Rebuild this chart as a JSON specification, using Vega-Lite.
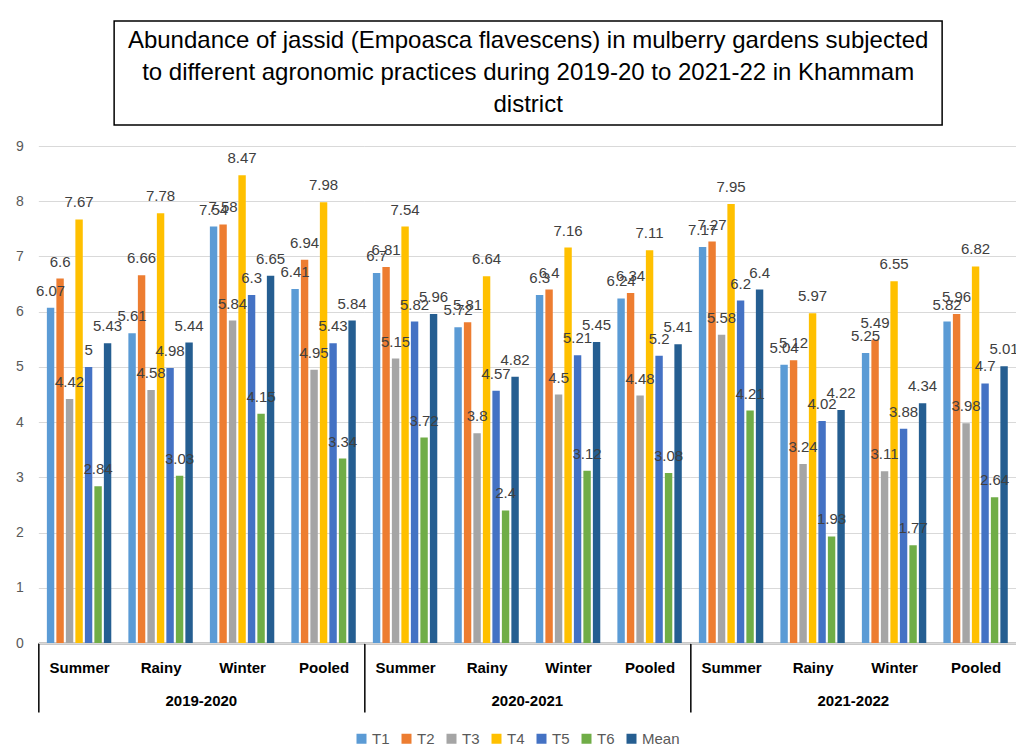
{
  "$schema": "https://vega.github.io/schema/vega-lite/v6.json",
  "padding": {"left": 15, "top": 20, "right": 0, "bottom": 0},
  "background": "white",
  "config": {
    "view": {"stroke": null},
    "font": "Liberation Sans",
    "legend": {"layout": {"bottom": {"anchor": "middle"}}}
  },
  "datasets": {
    "heading": [
      {"text": "Abundance of jassid (Empoasca flavescens) in mulberry gardens subjected|to different agronomic practices during 2019-20 to 2021-22 in Khammam|district"}
    ],
    "abundance": [
      {"year": "2019-2020", "season": "Summer", "series": "T1", "value": 6.07},
      {"year": "2019-2020", "season": "Summer", "series": "T2", "value": 6.6},
      {"year": "2019-2020", "season": "Summer", "series": "T3", "value": 4.42},
      {"year": "2019-2020", "season": "Summer", "series": "T4", "value": 7.67},
      {"year": "2019-2020", "season": "Summer", "series": "T5", "value": 5},
      {"year": "2019-2020", "season": "Summer", "series": "T6", "value": 2.84},
      {"year": "2019-2020", "season": "Summer", "series": "Mean", "value": 5.43},
      {"year": "2019-2020", "season": "Rainy", "series": "T1", "value": 5.61},
      {"year": "2019-2020", "season": "Rainy", "series": "T2", "value": 6.66},
      {"year": "2019-2020", "season": "Rainy", "series": "T3", "value": 4.58},
      {"year": "2019-2020", "season": "Rainy", "series": "T4", "value": 7.78},
      {"year": "2019-2020", "season": "Rainy", "series": "T5", "value": 4.98},
      {"year": "2019-2020", "season": "Rainy", "series": "T6", "value": 3.03},
      {"year": "2019-2020", "season": "Rainy", "series": "Mean", "value": 5.44},
      {"year": "2019-2020", "season": "Winter", "series": "T1", "value": 7.54},
      {"year": "2019-2020", "season": "Winter", "series": "T2", "value": 7.58},
      {"year": "2019-2020", "season": "Winter", "series": "T3", "value": 5.84},
      {"year": "2019-2020", "season": "Winter", "series": "T4", "value": 8.47},
      {"year": "2019-2020", "season": "Winter", "series": "T5", "value": 6.3},
      {"year": "2019-2020", "season": "Winter", "series": "T6", "value": 4.15},
      {"year": "2019-2020", "season": "Winter", "series": "Mean", "value": 6.65},
      {"year": "2019-2020", "season": "Pooled", "series": "T1", "value": 6.41},
      {"year": "2019-2020", "season": "Pooled", "series": "T2", "value": 6.94},
      {"year": "2019-2020", "season": "Pooled", "series": "T3", "value": 4.95},
      {"year": "2019-2020", "season": "Pooled", "series": "T4", "value": 7.98},
      {"year": "2019-2020", "season": "Pooled", "series": "T5", "value": 5.43},
      {"year": "2019-2020", "season": "Pooled", "series": "T6", "value": 3.34},
      {"year": "2019-2020", "season": "Pooled", "series": "Mean", "value": 5.84},
      {"year": "2020-2021", "season": "Summer", "series": "T1", "value": 6.7},
      {"year": "2020-2021", "season": "Summer", "series": "T2", "value": 6.81},
      {"year": "2020-2021", "season": "Summer", "series": "T3", "value": 5.15},
      {"year": "2020-2021", "season": "Summer", "series": "T4", "value": 7.54},
      {"year": "2020-2021", "season": "Summer", "series": "T5", "value": 5.82},
      {"year": "2020-2021", "season": "Summer", "series": "T6", "value": 3.72},
      {"year": "2020-2021", "season": "Summer", "series": "Mean", "value": 5.96},
      {"year": "2020-2021", "season": "Rainy", "series": "T1", "value": 5.72},
      {"year": "2020-2021", "season": "Rainy", "series": "T2", "value": 5.81},
      {"year": "2020-2021", "season": "Rainy", "series": "T3", "value": 3.8},
      {"year": "2020-2021", "season": "Rainy", "series": "T4", "value": 6.64},
      {"year": "2020-2021", "season": "Rainy", "series": "T5", "value": 4.57},
      {"year": "2020-2021", "season": "Rainy", "series": "T6", "value": 2.4},
      {"year": "2020-2021", "season": "Rainy", "series": "Mean", "value": 4.82},
      {"year": "2020-2021", "season": "Winter", "series": "T1", "value": 6.3},
      {"year": "2020-2021", "season": "Winter", "series": "T2", "value": 6.4},
      {"year": "2020-2021", "season": "Winter", "series": "T3", "value": 4.5},
      {"year": "2020-2021", "season": "Winter", "series": "T4", "value": 7.16},
      {"year": "2020-2021", "season": "Winter", "series": "T5", "value": 5.21},
      {"year": "2020-2021", "season": "Winter", "series": "T6", "value": 3.12},
      {"year": "2020-2021", "season": "Winter", "series": "Mean", "value": 5.45},
      {"year": "2020-2021", "season": "Pooled", "series": "T1", "value": 6.24},
      {"year": "2020-2021", "season": "Pooled", "series": "T2", "value": 6.34},
      {"year": "2020-2021", "season": "Pooled", "series": "T3", "value": 4.48},
      {"year": "2020-2021", "season": "Pooled", "series": "T4", "value": 7.11},
      {"year": "2020-2021", "season": "Pooled", "series": "T5", "value": 5.2},
      {"year": "2020-2021", "season": "Pooled", "series": "T6", "value": 3.08},
      {"year": "2020-2021", "season": "Pooled", "series": "Mean", "value": 5.41},
      {"year": "2021-2022", "season": "Summer", "series": "T1", "value": 7.17},
      {"year": "2021-2022", "season": "Summer", "series": "T2", "value": 7.27},
      {"year": "2021-2022", "season": "Summer", "series": "T3", "value": 5.58},
      {"year": "2021-2022", "season": "Summer", "series": "T4", "value": 7.95},
      {"year": "2021-2022", "season": "Summer", "series": "T5", "value": 6.2},
      {"year": "2021-2022", "season": "Summer", "series": "T6", "value": 4.21},
      {"year": "2021-2022", "season": "Summer", "series": "Mean", "value": 6.4},
      {"year": "2021-2022", "season": "Rainy", "series": "T1", "value": 5.04},
      {"year": "2021-2022", "season": "Rainy", "series": "T2", "value": 5.12},
      {"year": "2021-2022", "season": "Rainy", "series": "T3", "value": 3.24},
      {"year": "2021-2022", "season": "Rainy", "series": "T4", "value": 5.97},
      {"year": "2021-2022", "season": "Rainy", "series": "T5", "value": 4.02},
      {"year": "2021-2022", "season": "Rainy", "series": "T6", "value": 1.93},
      {"year": "2021-2022", "season": "Rainy", "series": "Mean", "value": 4.22},
      {"year": "2021-2022", "season": "Winter", "series": "T1", "value": 5.25},
      {"year": "2021-2022", "season": "Winter", "series": "T2", "value": 5.49},
      {"year": "2021-2022", "season": "Winter", "series": "T3", "value": 3.11},
      {"year": "2021-2022", "season": "Winter", "series": "T4", "value": 6.55},
      {"year": "2021-2022", "season": "Winter", "series": "T5", "value": 3.88},
      {"year": "2021-2022", "season": "Winter", "series": "T6", "value": 1.77},
      {"year": "2021-2022", "season": "Winter", "series": "Mean", "value": 4.34},
      {"year": "2021-2022", "season": "Pooled", "series": "T1", "value": 5.82},
      {"year": "2021-2022", "season": "Pooled", "series": "T2", "value": 5.96},
      {"year": "2021-2022", "season": "Pooled", "series": "T3", "value": 3.98},
      {"year": "2021-2022", "season": "Pooled", "series": "T4", "value": 6.82},
      {"year": "2021-2022", "season": "Pooled", "series": "T5", "value": 4.7},
      {"year": "2021-2022", "season": "Pooled", "series": "T6", "value": 2.64},
      {"year": "2021-2022", "season": "Pooled", "series": "Mean", "value": 5.01}
    ]
  },
  "center": true,
  "spacing": 13,
  "vconcat": [
    {
      "width": 828,
      "height": 104,
      "view": {"stroke": "black", "strokeWidth": 1.5},
      "data": {"name": "heading"},
      "mark": {
        "type": "text",
        "font": "Liberation Sans",
        "fontSize": 24,
        "lineHeight": 32,
        "lineBreak": "|",
        "align": "center",
        "baseline": "middle",
        "dy": -32,
        "color": "black"
      },
      "encoding": {"text": {"field": "text", "type": "nominal"}}
    },
    {
      "data": {"name": "abundance"},
      "spacing": 0,
      "bounds": "flush",
      "facet": {
        "column": {
          "field": "year",
          "type": "nominal",
          "title": null,
          "header": {
            "labelOrient": "bottom",
            "labelFont": "Liberation Sans",
            "labelFontWeight": "bold",
            "labelFontSize": 15,
            "labelColor": "black",
            "labelPadding": -19
          }
        }
      },
      "spec": {
        "width": 326,
        "height": 497,
        "encoding": {
          "x": {
            "field": "season",
            "type": "nominal",
            "sort": ["Summer", "Rainy", "Winter", "Pooled"],
            "scale": {"paddingInner": 0, "paddingOuter": 0},
            "axis": {
              "title": null,
              "labelAngle": 0,
              "labelFont": "Liberation Sans",
              "labelFontWeight": "bold",
              "labelFontSize": 15,
              "labelColor": "black",
              "labelPadding": -52,
              "domainColor": "#262626",
              "domainWidth": 1.5,
              "tickBand": "extent",
              "tickSize": 69,
              "tickWidth": 1.5,
              "tickColor": "black",
              "tickOpacity": {"condition": {"test": "datum.index < 0", "value": 1}, "value": 0}
            }
          },
          "xOffset": {
            "field": "series",
            "type": "nominal",
            "sort": ["T1", "T2", "T3", "T4", "T5", "T6", "Mean"],
            "scale": {"paddingInner": 0.22, "paddingOuter": 0.9}
          },
          "y": {
            "field": "value",
            "type": "quantitative",
            "scale": {"domain": [0, 9], "nice": false},
            "axis": {
              "title": null,
              "values": [0, 1, 2, 3, 4, 5, 6, 7, 8, 9],
              "domain": false,
              "ticks": false,
              "labelFontSize": 14,
              "labelColor": "#595959",
              "labelPadding": 15,
              "gridColor": "#D9D9D9",
              "gridWidth": 1.2
            }
          }
        },
        "layer": [
          {
            "mark": {"type": "bar"},
            "encoding": {
              "color": {
                "field": "series",
                "type": "nominal",
                "sort": ["T1", "T2", "T3", "T4", "T5", "T6", "Mean"],
                "scale": {
                  "domain": ["T1", "T2", "T3", "T4", "T5", "T6", "Mean"],
                  "range": ["#5B9BD5", "#ED7D31", "#A5A5A5", "#FFC000", "#4472C4", "#70AD47", "#255E91"]
                },
                "legend": {
                  "orient": "bottom",
                  "direction": "horizontal",
                  "title": null,
                  "symbolType": "square",
                  "symbolSize": 100,
                  "symbolStrokeWidth": 0,
                  "labelFontSize": 15,
                  "labelColor": "#595959",
                  "labelOffset": 3,
                  "columnPadding": 9
                }
              }
            }
          },
          {
            "mark": {
              "type": "text",
              "baseline": "bottom",
              "dy": -9,
              "fontSize": 15,
              "color": "#404040"
            },
            "encoding": {"text": {"field": "value", "type": "quantitative"}}
          }
        ]
      }
    }
  ]
}
